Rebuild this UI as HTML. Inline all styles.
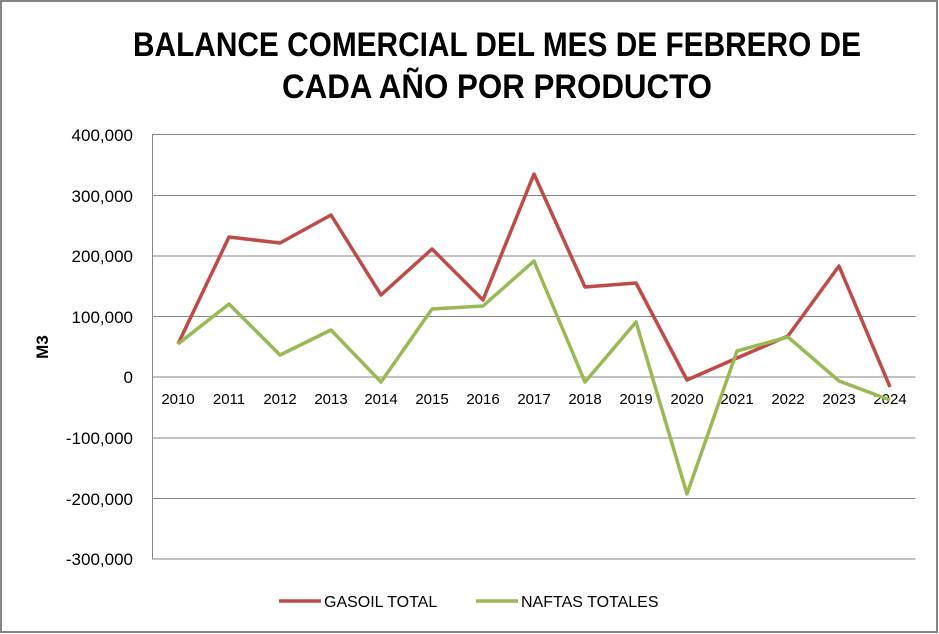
<!DOCTYPE html>
<html><head><meta charset="utf-8"><style>html,body{margin:0;padding:0;background:#fff}svg{display:block}</style></head>
<body>
<svg width="939" height="634" viewBox="0 0 939 634" xmlns="http://www.w3.org/2000/svg" font-family="'Liberation Sans', sans-serif">
<rect x="1" y="1" width="936" height="631" fill="#fff" stroke="#868686" stroke-width="2"/>
<text x="497" y="56" text-anchor="middle" font-size="34" font-weight="bold" textLength="728" lengthAdjust="spacingAndGlyphs">BALANCE COMERCIAL DEL MES DE FEBRERO DE</text>
<text x="497" y="98" text-anchor="middle" font-size="34" font-weight="bold" textLength="430" lengthAdjust="spacingAndGlyphs">CADA AÑO POR PRODUCTO</text>
<g stroke="#868686" stroke-width="1">
<line x1="152" y1="134.5" x2="915.5" y2="134.5"/>
<line x1="152" y1="195.5" x2="915.5" y2="195.5"/>
<line x1="152" y1="256" x2="915.5" y2="256"/>
<line x1="152" y1="316.5" x2="915.5" y2="316.5"/>
<line x1="152" y1="377" x2="915.5" y2="377"/>
<line x1="152" y1="438" x2="915.5" y2="438"/>
<line x1="152" y1="498.5" x2="915.5" y2="498.5"/>
<line x1="152" y1="559" x2="915.5" y2="559"/>
<line x1="152.5" y1="134" x2="152.5" y2="559"/>
</g>
<g font-size="17" text-anchor="end" fill="#000">
<text x="133" y="141">400,000</text>
<text x="133" y="202">300,000</text>
<text x="133" y="262">200,000</text>
<text x="133" y="323">100,000</text>
<text x="133" y="383">0</text>
<text x="133" y="444">-100,000</text>
<text x="133" y="505">-200,000</text>
<text x="133" y="565">-300,000</text>
</g>
<text transform="translate(48,347) rotate(-90)" text-anchor="middle" font-size="17" font-weight="bold">M3</text>
<g font-size="15" text-anchor="middle">
<text x="178" y="404">2010</text><text x="229" y="404">2011</text><text x="280" y="404">2012</text><text x="331" y="404">2013</text><text x="381" y="404">2014</text><text x="432" y="404">2015</text><text x="483" y="404">2016</text><text x="534" y="404">2017</text><text x="585" y="404">2018</text><text x="636" y="404">2019</text><text x="687" y="404">2020</text><text x="737" y="404">2021</text><text x="788" y="404">2022</text><text x="839" y="404">2023</text><text x="890" y="404">2024</text>
</g>
<polyline fill="none" stroke="#be4b48" stroke-width="3.5" stroke-linejoin="round" points="178,344 229,237 280,243 331,215 381,295 432,249 483,300 534,174 585,287 636,283 687,380 737,358 788,336 839,266 890,387"/>
<polyline fill="none" stroke="#98b954" stroke-width="3.5" stroke-linejoin="round" points="178,344 229,304 280,355 331,330 381,382 432,309 483,306 534,261 585,382 636,322 687,494 737,351 788,337 839,381 890,400"/>
<line x1="279" y1="601" x2="321" y2="601" stroke="#be4b48" stroke-width="3.5"/>
<text x="324" y="607" font-size="16">GASOIL TOTAL</text>
<line x1="476" y1="601" x2="518" y2="601" stroke="#98b954" stroke-width="3.5"/>
<text x="521" y="607" font-size="16">NAFTAS TOTALES</text>
</svg>
</body></html>
